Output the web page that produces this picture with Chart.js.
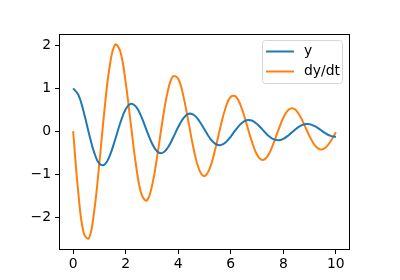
<!DOCTYPE html>
<html>
<head>
<meta charset="utf-8">
<script src="https://cdn.jsdelivr.net/npm/chart.js@4"></script>
<style>
  html, body { margin: 0; padding: 0; background: #fff; }
  #chart { display: block; }
</style>
</head>
<body>
<canvas id="chart" width="400" height="280"></canvas>
<script>
// time samples (step 0.2)
const tValues = [0, 0.2, 0.4, 0.6, 0.8, 1, 1.2, 1.4, 1.6, 1.8, 2, 2.2, 2.4, 2.6, 2.8, 3, 3.2, 3.4, 3.6, 3.8,
  4, 4.2, 4.4, 4.6, 4.8, 5, 5.2, 5.4, 5.6, 5.8, 6, 6.2, 6.4, 6.6, 6.8, 7, 7.2, 7.4, 7.6, 7.8,
  8, 8.2, 8.4, 8.6, 8.8, 9, 9.2, 9.4, 9.6, 9.8, 10];

// y
const yValues = [1, 0.848, 0.454, -0.045, -0.493, -0.759, -0.777, -0.561, -0.194, 0.203,
  0.509, 0.639, 0.567, 0.332, 0.015, -0.282, -0.472, -0.506, -0.386, -0.159,
  0.097, 0.305, 0.405, 0.377, 0.238, 0.038, -0.158, -0.291, -0.327, -0.262,
  -0.124, 0.041, 0.181, 0.256, 0.249, 0.167, 0.043, -0.086, -0.178, -0.210,
  -0.177, -0.093, 0.012, 0.106, 0.160, 0.163, 0.117, 0.039, -0.045, -0.108, -0.134];

// dy/dt
const dyValues = [0, -1.457, -2.366, -2.497, -1.870, -0.732, 0.538, 1.549, 2.019, 1.848,
  1.137, 0.141, -0.822, -1.464, -1.618, -1.277, -0.579, 0.238, 0.922, 1.276,
  1.222, 0.806, 0.181, -0.451, -0.899, -1.043, -0.864, -0.440, 0.083, 0.541,
  0.802, 0.803, 0.563, 0.174, -0.238, -0.547, -0.668, -0.580, -0.325, 0.008,
  0.312, 0.500, 0.524, 0.389, 0.148, -0.119, -0.329, -0.425, -0.386, -0.235, -0.025];

const seriesNames = ["y", "dy/dt"];
const seriesColors = ["#1f77b4", "#ff7f0e"];
const xTicks = [0, 2, 4, 6, 8, 10];
const yTicks = [-2, -1, 0, 1, 2];

const FONT = "DejaVu Sans";
const minus = v => String(v).replace("-", "\u2212");

// frame + legend, drawn like matplotlib
const framePlugin = {
  id: "frame",
  afterDraw(chart) {
    const { ctx, chartArea: a } = chart;
    ctx.save();
    ctx.strokeStyle = "#000";
    ctx.lineWidth = 1;
    ctx.strokeRect(Math.round(a.left) - 0.5, Math.round(a.top) + 0.5,
      Math.round(a.right - a.left) + 1, Math.round(a.bottom - a.top));

    // legend box
    const bx = 262.5, by = 40.5, bw = 80, bh = 43, r = 3;
    ctx.beginPath();
    ctx.moveTo(bx + r, by);
    ctx.arcTo(bx + bw, by, bx + bw, by + bh, r);
    ctx.arcTo(bx + bw, by + bh, bx, by + bh, r);
    ctx.arcTo(bx, by + bh, bx, by, r);
    ctx.arcTo(bx, by, bx + bw, by, r);
    ctx.closePath();
    ctx.fillStyle = "rgba(255,255,255,0.8)";
    ctx.fill();
    ctx.strokeStyle = "#d6d6d6";
    ctx.stroke();

    ctx.font = "13.9px '" + FONT + "'";
    ctx.textBaseline = "middle";
    ctx.fillStyle = "#000";
    const rows = [51.5, 71.5];
    seriesNames.forEach((name, i) => {
      ctx.beginPath();
      ctx.strokeStyle = seriesColors[i];
      ctx.lineWidth = 2;
      ctx.moveTo(266, rows[i]);
      ctx.lineTo(294, rows[i]);
      ctx.stroke();
      ctx.fillText(name, 304, rows[i]);
    });
    ctx.restore();
  }
};

const ctx = document.getElementById("chart").getContext("2d");
new Chart(ctx, {
  type: "line",
  data: {
    datasets: [yValues, dyValues].map((vals, i) => ({
      label: seriesNames[i],
      data: tValues.map((t, j) => ({ x: t, y: vals[j] })),
      borderColor: seriesColors[i],
      borderWidth: 2,
      pointRadius: 0,
      tension: 0.4,
      fill: false
    }))
  },
  options: {
    responsive: false,
    animation: false,
    layout: { padding: { top: 34, right: 51, left: 0, bottom: 0 } },
    plugins: { legend: { display: false }, tooltip: { enabled: false } },
    scales: {
      x: {
        type: "linear",
        min: -0.5,
        max: 10.5,
        afterBuildTicks: axis => { axis.ticks = xTicks.map(v => ({ value: v })); },
        afterFit: axis => { axis.height = 31; },
        border: { display: false },
        grid: { drawOnChartArea: false, drawTicks: true, tickLength: 5, color: "#000", lineWidth: 1 },
        ticks: { color: "#000", font: { family: FONT, size: 13.9 }, padding: 2, maxRotation: 0, callback: v => minus(v) }
      },
      y: {
        min: -2.745,
        max: 2.265,
        afterBuildTicks: axis => { axis.ticks = yTicks.map(v => ({ value: v })); },
        afterFit: axis => { axis.width = 60; },
        border: { display: false },
        grid: { drawOnChartArea: false, drawTicks: true, tickLength: 5, color: "#000", lineWidth: 1 },
        ticks: { color: "#000", font: { family: FONT, size: 13.9 }, padding: 4, callback: v => minus(v) }
      }
    }
  },
  plugins: [framePlugin]
});
</script>
</body>
</html>
